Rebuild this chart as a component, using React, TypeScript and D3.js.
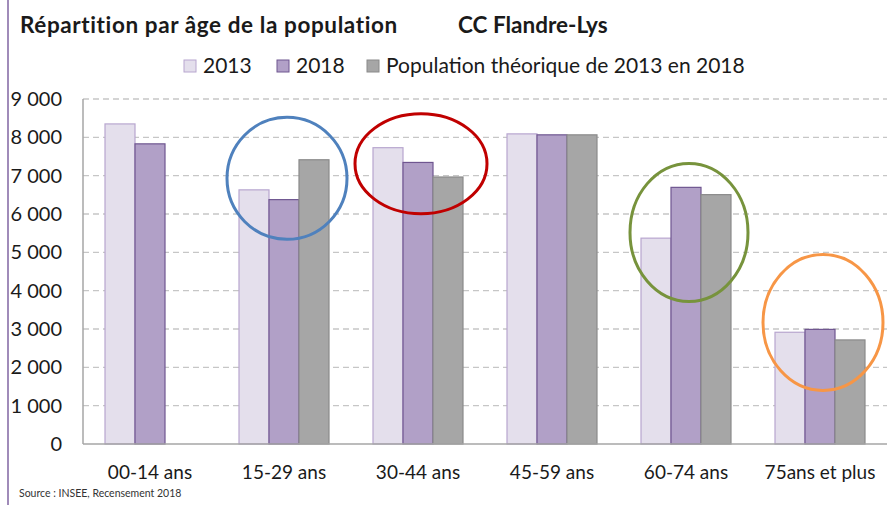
import React, { useEffect, useRef } from "react";
import * as d3 from "d3";

const categories = ["00-14 ans", "15-29 ans", "30-44 ans", "45-59 ans", "60-74 ans", "75ans et plus"];
const seriesNames = ["2013", "2018", "Population théorique de 2013 en 2018"];
const values2013 = [8350, 6630, 7730, 8090, 5370, 2915];
const values2018 = [7830, 6375, 7345, 8065, 6695, 2990];
const valuesTheo: (number | null)[] = [null, 7415, 6965, 8065, 6505, 2715];
const yTicks = [0, 1000, 2000, 3000, 4000, 5000, 6000, 7000, 8000, 9000];

// highlight ellipses: category, centre value, radii in px
const highlights = [
  { cat: "15-29 ans", v: 6930, rx: 60, ry: 61, color: "#4f81bd" },
  { cat: "30-44 ans", v: 7310, rx: 66, ry: 50, color: "#c00000" },
  { cat: "60-74 ans", v: 5520, rx: 59, ry: 69, color: "#77933c" },
  { cat: "75ans et plus", v: 3170, rx: 60, ry: 68, color: "#f79646" },
];

const fills = ["#e4dfec", "#b1a0c7", "#a6a6a6"];
const strokes = ["#b8a6cf", "#6f5690", "#8a8a8a"];

const FONT = "Lato, 'Open Sans', sans-serif";

export default function App() {
  const ref = useRef<SVGSVGElement>(null);

  useEffect(() => {
    const svg = d3.select(ref.current);
    svg.selectAll("*").remove();

    const margin = { top: 99, right: 3, bottom: 60, left: 83 };
    const width = 890 - margin.left - margin.right;
    const height = 505 - margin.top - margin.bottom - 1;

    const fr = d3.formatLocale({ decimal: ",", thousands: " ", grouping: [3], currency: ["", " €"] });
    const fmt = fr.format(",d");

    // purple left border
    svg.append("line")
      .attr("x1", 8).attr("x2", 8).attr("y1", 0).attr("y2", 505)
      .attr("stroke", "#8064a2").attr("stroke-width", 1.5);

    // title
    svg.append("text")
      .attr("x", 20).attr("y", 33)
      .style("font-family", FONT).style("font-weight", "bold").style("font-size", "22.5px")
      .style("font-variant-ligatures", "none").style("letter-spacing", "0.6px")
      .attr("fill", "#1a1a1a")
      .text("Répartition par âge de la population");
    svg.append("text")
      .attr("x", 458).attr("y", 33)
      .style("font-family", FONT).style("font-weight", "bold").style("font-size", "22.5px")
      .attr("fill", "#1a1a1a")
      .text("CC Flandre-Lys");

    // legend
    const legendX = [184, 277, 367];
    seriesNames.forEach((name, i) => {
      svg.append("rect")
        .attr("x", legendX[i]).attr("y", 60).attr("width", 12).attr("height", 12)
        .attr("fill", fills[i]).attr("stroke", strokes[i]);
      svg.append("text")
        .attr("x", legendX[i] + 19).attr("y", 73)
        .style("font-family", FONT).style("font-size", "21px")
        .attr("fill", "#1a1a1a")
        .text(name);
    });

    const g = svg.append("g").attr("transform", "translate(" + margin.left + "," + margin.top + ")");

    const x = d3.scaleBand().domain(categories).range([0, width]);
    const y = d3.scaleLinear().domain([0, 9000]).range([height, 0]);
    const barW = 30;

    // gridlines
    g.append("g")
      .selectAll("line")
      .data(yTicks.filter(t => t > 0))
      .enter()
      .append("line")
      .attr("x1", 0).attr("x2", width)
      .attr("y1", d => y(d)).attr("y2", d => y(d))
      .attr("stroke", "#c6c6c6").attr("stroke-width", 1.3)
      .attr("stroke-dasharray", "6,4");

    // y labels
    g.append("g")
      .selectAll("text")
      .data(yTicks)
      .enter()
      .append("text")
      .attr("x", -21).attr("y", d => y(d) + 7)
      .attr("text-anchor", "end")
      .style("font-family", FONT).style("font-size", "20px")
      .attr("fill", "#1a1a1a")
      .text(d => fmt(d));

    // bars
    const series = [values2013, values2018, valuesTheo];
    series.forEach((vals, si) => {
      g.append("g")
        .selectAll("rect")
        .data(categories.map((c, i) => ({ c, v: vals[i] })).filter(d => d.v != null))
        .enter()
        .append("rect")
        .attr("x", d => (x(d.c) as number) + x.bandwidth() / 2 - 1.5 * barW + si * barW)
        .attr("y", d => y(d.v as number))
        .attr("width", barW)
        .attr("height", d => height - y(d.v as number))
        .attr("fill", fills[si])
        .attr("stroke", strokes[si])
        .attr("stroke-width", 1.2);
    });

    // axes lines
    g.append("line").attr("x1", 0).attr("x2", 0).attr("y1", 0).attr("y2", height)
      .attr("stroke", "#a6a6a6").attr("stroke-width", 1.5);
    g.append("line").attr("x1", 0).attr("x2", width).attr("y1", height).attr("y2", height)
      .attr("stroke", "#a6a6a6").attr("stroke-width", 1.5);

    // category labels
    g.append("g")
      .selectAll("text")
      .data(categories)
      .enter()
      .append("text")
      .attr("x", d => (x(d) as number) + x.bandwidth() / 2)
      .attr("y", height + 35)
      .attr("text-anchor", "middle")
      .style("font-family", FONT).style("font-size", "19px")
      .attr("fill", "#1a1a1a")
      .text(d => d);

    // highlight ellipses
    g.append("g")
      .selectAll("ellipse")
      .data(highlights)
      .enter()
      .append("ellipse")
      .attr("cx", d => (x(d.cat) as number) + x.bandwidth() / 2 + 3)
      .attr("cy", d => y(d.v))
      .attr("rx", d => d.rx).attr("ry", d => d.ry)
      .attr("fill", "none")
      .attr("stroke", d => d.color)
      .attr("stroke-width", 3);

    // source
    svg.append("text")
      .attr("x", 19).attr("y", 497)
      .style("font-family", FONT).style("font-size", "10.5px")
      .attr("fill", "#333")
      .text("Source : INSEE, Recensement 2018");
  }, []);

  return (
    <div style={{ position: "absolute", left: 0, top: 0 }}>
      <svg ref={ref} width={890} height={505} style={{ display: "block", background: "#fff" }} />
    </div>
  );
}
